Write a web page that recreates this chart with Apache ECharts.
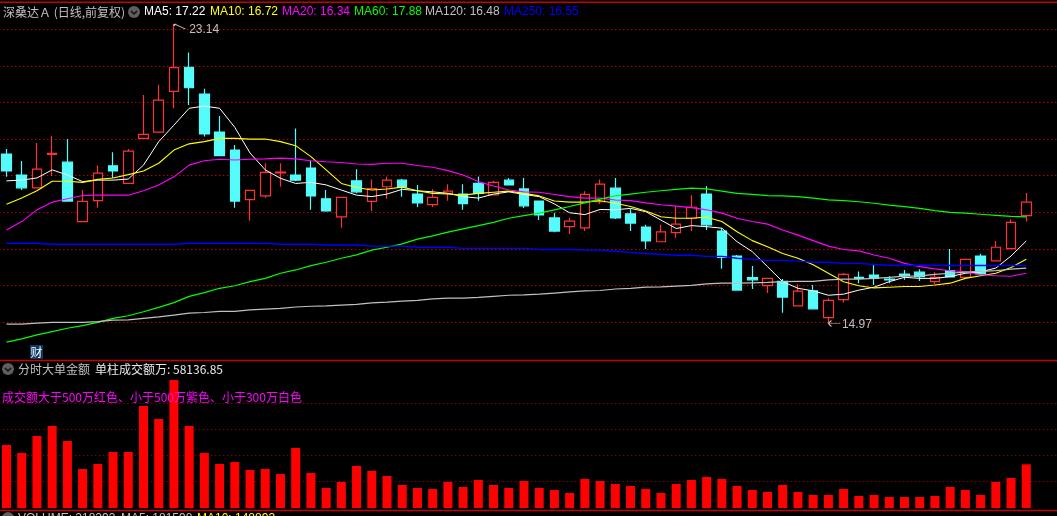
<!DOCTYPE html>
<html><head><meta charset="utf-8">
<style>html,body{margin:0;padding:0;background:#000;overflow:hidden}#c{width:1057px;height:516px}</style>
<script src="https://cdn.jsdelivr.net/npm/echarts@6/dist/echarts.min.js"></script>
</head><body><div id="c"></div>
<script>
const openP=[19.59,19.02,18.67,19.58,19.37,17.75,18.32,19.27,18.79,20.02,20.19,21.30,21.96,21.23,20.19,19.70,18.35,18.45,19.08,19.02,19.21,18.37,17.88,18.86,18.30,18.70,18.88,18.50,18.21,18.52,18.50,18.79,18.48,18.88,18.64,18.31,17.85,17.61,17.58,18.29,18.66,17.96,17.60,17.20,17.45,17.84,18.50,17.49,16.81,16.22,16.00,16.12,15.45,15.86,15.13,15.62,16.23,16.29,16.18,16.32,16.37,16.11,16.41,16.23,16.81,16.68,17.01,17.91];
const closeP=[19.13,18.67,19.18,19.61,18.31,18.30,19.07,19.13,19.67,20.13,21.06,21.95,21.40,20.14,19.55,18.31,18.60,19.09,19.10,18.88,18.45,18.04,18.41,18.56,18.65,18.88,18.69,18.26,18.41,18.58,18.24,18.52,18.82,18.75,18.18,17.93,17.49,17.76,18.49,18.77,17.85,17.71,17.22,17.47,17.68,18.14,17.66,16.77,15.88,16.16,16.20,15.69,15.85,15.37,15.60,16.31,16.20,16.20,16.16,16.28,16.25,16.23,16.24,16.72,16.32,17.05,17.73,18.28];
const lowP=[18.97,18.61,18.67,18.99,18.29,17.75,18.13,18.94,18.79,20.02,20.19,20.84,20.93,20.07,19.55,18.13,17.77,18.40,18.70,18.85,18.07,18.02,17.58,18.52,18.04,18.37,18.43,18.15,18.15,18.32,18.07,18.32,18.48,18.75,18.12,17.79,17.46,17.41,17.49,18.23,17.82,17.49,17.00,17.20,17.31,17.49,17.52,16.46,15.88,15.91,15.80,15.26,15.45,15.37,14.97,15.54,16.07,16.02,16.07,16.16,16.13,16.04,16.24,16.23,16.29,16.68,17.01,17.75];
const highP=[19.73,19.40,19.89,20.08,20.00,18.61,19.28,19.64,19.73,21.20,21.48,23.14,22.36,21.37,20.63,19.84,18.60,19.34,19.34,20.29,19.40,18.61,18.41,19.18,18.90,18.97,18.91,18.75,18.63,18.77,18.77,18.98,18.86,18.94,18.94,18.31,17.99,17.85,18.58,18.90,18.94,18.09,17.66,17.66,18.17,18.47,18.72,17.57,16.84,16.54,16.20,16.18,16.04,16.02,15.66,16.35,16.39,16.57,16.26,16.43,16.45,16.37,17.00,16.72,16.87,17.22,17.81,18.53];
const ma5=[18.86,18.88,18.94,19.16,19.02,18.84,18.88,18.88,18.91,19.29,19.93,20.38,20.84,20.90,20.84,20.32,19.62,19.16,18.93,18.79,18.82,18.75,18.61,18.47,18.43,18.50,18.63,18.59,18.56,18.52,18.43,18.39,18.50,18.56,18.49,18.43,18.23,17.99,17.94,18.08,18.07,18.11,18.02,17.79,17.56,17.64,17.61,17.57,17.20,16.93,16.52,16.11,15.93,15.86,15.74,15.77,15.88,15.96,16.11,16.23,16.20,16.20,16.25,16.34,16.38,16.48,16.81,17.22];
const ma10=[18.22,18.39,18.59,18.85,18.85,18.82,18.90,18.94,19.03,19.13,19.34,19.70,19.87,19.93,20.02,20.02,20.00,20.00,19.93,19.82,19.52,19.16,18.79,18.68,18.61,18.64,18.69,18.59,18.52,18.50,18.47,18.52,18.55,18.58,18.52,18.45,18.31,18.28,18.28,18.32,18.25,18.16,18.04,17.88,17.84,17.84,17.87,17.75,17.47,17.23,17.06,16.88,16.75,16.57,16.34,16.11,16.00,15.94,15.96,15.98,15.98,16.02,16.07,16.20,16.27,16.34,16.50,16.72];
const ma20=[17.52,17.75,18.07,18.28,18.37,18.46,18.47,18.47,18.47,18.59,18.75,18.97,19.29,19.41,19.45,19.43,19.45,19.46,19.48,19.46,19.41,19.38,19.36,19.32,19.31,19.34,19.34,19.28,19.23,19.14,19.02,18.84,18.72,18.61,18.56,18.55,18.49,18.43,18.39,18.39,18.34,18.32,18.26,18.21,18.17,18.13,18.07,17.98,17.84,17.75,17.68,17.52,17.38,17.23,17.08,16.99,16.95,16.84,16.75,16.61,16.52,16.46,16.41,16.38,16.30,16.27,16.26,16.34];
const ma60=[14.46,14.55,14.66,14.75,14.84,14.91,15.00,15.11,15.18,15.29,15.41,15.54,15.71,15.81,15.93,16.00,16.11,16.20,16.34,16.43,16.55,16.64,16.75,16.84,16.97,17.05,17.14,17.27,17.36,17.46,17.55,17.64,17.73,17.84,17.91,17.98,18.07,18.16,18.26,18.36,18.45,18.50,18.55,18.59,18.63,18.66,18.64,18.58,18.52,18.49,18.46,18.45,18.43,18.39,18.34,18.32,18.29,18.25,18.20,18.16,18.11,18.05,18.00,17.98,17.95,17.92,17.89,17.88];
const ma120=[14.95,14.95,14.98,15.00,15.00,15.00,15.02,15.06,15.07,15.11,15.15,15.20,15.25,15.27,15.30,15.30,15.34,15.36,15.38,15.42,15.44,15.45,15.47,15.49,15.53,15.55,15.58,15.60,15.64,15.66,15.66,15.68,15.71,15.74,15.75,15.77,15.80,15.83,15.86,15.87,15.91,15.93,15.96,15.97,15.99,16.01,16.05,16.07,16.07,16.08,16.09,16.11,16.12,16.12,16.16,16.18,16.18,16.20,16.23,16.26,16.27,16.31,16.34,16.37,16.39,16.41,16.45,16.48];
const ma250=[17.16,17.16,17.16,17.13,17.13,17.13,17.13,17.13,17.13,17.13,17.13,17.13,17.16,17.16,17.16,17.16,17.16,17.16,17.13,17.13,17.13,17.11,17.11,17.11,17.08,17.08,17.08,17.05,17.05,17.05,17.02,17.02,17.02,17.02,17.02,16.99,16.99,16.99,16.97,16.97,16.94,16.91,16.88,16.86,16.83,16.83,16.80,16.80,16.75,16.72,16.69,16.69,16.67,16.64,16.64,16.61,16.61,16.58,16.56,16.56,16.56,16.56,16.55,16.55,16.55,16.55,16.55,16.55];
const amount=[83850,73200,95830,109140,89180,51910,58560,74540,74540,135760,118460,170370,109140,73200,58560,61230,50580,51910,45250,79860,46590,26620,34610,55900,49250,42590,30610,26620,25290,34610,27950,37270,30610,26620,35940,26620,23960,19970,38600,35940,31940,29280,25290,19970,31940,37270,41260,38600,29280,23960,21300,30610,21300,17300,17300,25290,15970,17300,14640,14640,14640,15970,27950,23960,17300,34610,39930,58136.85];
const categories=Array.from({length:70},(_,i)=>String(i+1));
const maNames=['MA5','MA10','MA20','MA60','MA120','MA250'];
const maColors=['#FFFFFF','#FFFF00','#FF00FF','#00FF00','#C0C0C0','#0000FF'];
const maWidths=[1,1.1,1.1,1.2,1.2,1.4];
const maSeries=[ma5,ma10,ma20,ma60,ma120,ma250];
const maLabels=['MA5: 17.22','MA10: 16.72','MA20: 16.34','MA60: 17.88','MA120: 16.48','MA250: 16.55'];
const maLabelX=[144,210,282,354,425,504];
const RED='#FF3232',CYAN='#54FCFC',BAR='#FF0000',GREY='#C0C0C0';
const LATIN='"Liberation Sans","Noto Sans CJK SC",sans-serif';
const CJK='"Noto Sans CJK SC","Liberation Sans",sans-serif';
function txt(x,y,text,fill,font){return {type:'text',z:50,silent:true,x,y,style:{text,fill,font:'12px '+(font||LATIN),textVerticalAlign:'middle'}};}
function icon(cx,cy){return {type:'group',z:50,silent:true,x:cx,y:cy,children:[
 {type:'circle',shape:{cx:0,cy:0,r:6},style:{fill:'#5E5E5E'}},
 {type:'polyline',shape:{points:[[-3,-1],[0,2],[3,-1]]},style:{stroke:'#111',lineWidth:1.5,fill:'none'}}]};}
function rule(y){return {type:'rect',z:40,silent:true,shape:{x:0,y:y,width:1057,height:1.5},style:{fill:'#C80000'}};}
const graphic=[rule(1.5),rule(359.7),rule(509.7),
 txt(3,12,'深桑达Ａ (日线,前复权)',GREY,CJK),icon(134,12),
 ...maLabels.map((t,i)=>txt(maLabelX[i],12,t,maColors[i])),
 {type:'rect',z:45,silent:true,shape:{x:30,y:345,width:13,height:14},style:{fill:'#0A3A66'}},
 txt(30.5,352,'财','#FFFFFF',CJK),
 icon(8,369),txt(18,369,'分时大单金额',GREY,CJK),txt(95,369,'单柱成交额万: 58136.85','#E8E8E8',CJK),
 txt(2,397,'成交额大于500万红色、小于500万紫色、小于300万白色','#FF00FF',CJK),
 icon(8,518),txt(18,519,'VOLUME: 218293',GREY),txt(121,519,'MA5: 181598',GREY),txt(197,519,'MA10: 148893','#FFFF00')];
const axisOff={axisLine:{show:false},axisTick:{show:false},axisLabel:{show:false}};
const chart=echarts.init(document.getElementById('c'),null,{renderer:'canvas'});
chart.setOption({
 animation:false,backgroundColor:'#000',graphic,
 grid:[{left:-1.1,top:-7.56,width:1065.4,height:366.6,outerBoundsMode:'none'},{left:-1.1,top:376.5,width:1065.4,height:131.5,outerBoundsMode:'none'}],
 xAxis:[{type:'category',data:categories,gridIndex:0,boundaryGap:true,splitLine:{show:false},...axisOff},
        {type:'category',data:categories,gridIndex:1,boundaryGap:true,splitLine:{show:false},...axisOff}],
 yAxis:[{type:'value',gridIndex:0,min:14,max:24,interval:1,...axisOff,
   splitLine:{show:true,showMinLine:false,showMaxLine:false,lineStyle:{color:'#C00000',width:1,type:[1.5,2.5]}}},
  {type:'value',gridIndex:1,min:0,max:175000,interval:35000,...axisOff,
   splitLine:{show:true,showMinLine:false,showMaxLine:false,lineStyle:{color:'#800000',width:1,type:[1.5,2.5]}}}],
 series:[
  {type:'candlestick',xAxisIndex:0,yAxisIndex:0,barWidth:10,silent:true,z:2,
   data:openP.map((o,i)=>[o,closeP[i],lowP[i],highP[i]]),
   itemStyle:{color:'#000',color0:CYAN,borderColor:RED,borderColor0:CYAN,borderWidth:1.2},
   markPoint:{silent:true,animation:false,data:[
    {coord:['12',23.14],symbol:'path://M0 0L0 2M0 0L2 0M0 0L11 5',symbolSize:[11,5],symbolKeepAspect:false,symbolOffset:[6,2.5],
     itemStyle:{color:'none',borderColor:GREY,borderWidth:1},
     label:{show:true,formatter:'23.14',position:'right',distance:0,offset:[0,3],color:GREY,fontSize:12,fontFamily:'Liberation Sans'}},
    {coord:['55',14.97],symbol:'path://M0 3L3 0M0 3L3 6M0 3L12 3',symbolSize:[12,6],symbolKeepAspect:false,symbolOffset:[6,0],
     itemStyle:{color:'none',borderColor:GREY,borderWidth:1},
     label:{show:true,formatter:'14.97',position:'right',distance:-2,offset:[0,1],color:GREY,fontSize:12,fontFamily:'Liberation Sans'}}
   ]}},
  ...maSeries.map((d,i)=>({type:'line',name:maNames[i],xAxisIndex:0,yAxisIndex:0,data:d,symbol:'none',silent:true,z:3+i,
    lineStyle:{color:maColors[i],width:maWidths[i]}})),
  {type:'bar',xAxisIndex:1,yAxisIndex:1,data:amount,barWidth:9,silent:true,itemStyle:{color:BAR}}
 ]
});
</script></body></html>
